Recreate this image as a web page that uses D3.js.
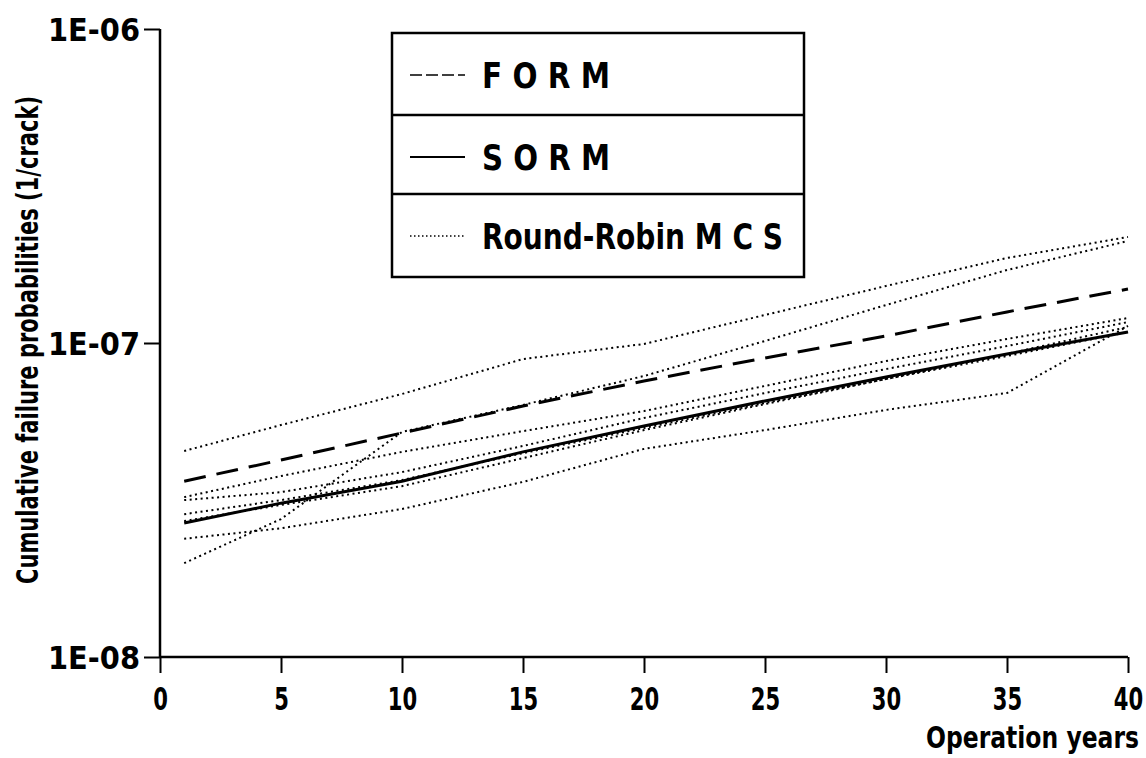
<!DOCTYPE html>
<html>
<head>
<meta charset="utf-8">
<script src="https://cdn.jsdelivr.net/npm/d3@7"></script>
<style>
  body { margin: 0; background: #fff; }
  text { font-family: "DejaVu Sans", sans-serif; font-weight: bold; fill: #000; }
</style>
</head>
<body>
<script>
const width = 1146;
const height = 758;

const years = [1, 5, 10, 15, 20, 25, 30, 35, 40];

const form = [3.63e-8, 4.24e-8, 5.17e-8, 6.30e-8, 7.57e-8, 8.96e-8, 1.053e-7, 1.256e-7, 1.486e-7];
const sorm = [2.67e-8, 3.09e-8, 3.63e-8, 4.50e-8, 5.44e-8, 6.54e-8, 7.79e-8, 9.23e-8, 1.084e-7];

// round-robin monte carlo results, one array per participant
const mcsA = [4.53e-8, 5.48e-8, 6.88e-8, 8.89e-8, 9.93e-8, 1.228e-7, 1.519e-7, 1.865e-7, 2.176e-7];
const mcsB = [1.99e-8, 2.75e-8, 5.21e-8, 6.35e-8, 7.85e-8, 1.015e-7, 1.321e-7, 1.708e-7, 2.113e-7];
const mcsC = [2.38e-8, 2.57e-8, 2.96e-8, 3.61e-8, 4.60e-8, 5.28e-8, 6.12e-8, 6.93e-8, 1.133e-7];
const mcsD = [3.23e-8, 3.77e-8, 4.50e-8, 5.24e-8, 6.07e-8, 7.30e-8, 8.76e-8, 1.030e-7, 1.201e-7];
const mcsE = [3.16e-8, 3.35e-8, 3.88e-8, 4.70e-8, 5.77e-8, 6.93e-8, 8.26e-8, 9.78e-8, 1.166e-7];
const mcsF = [2.85e-8, 3.16e-8, 3.66e-8, 4.46e-8, 5.36e-8, 6.44e-8, 7.68e-8, 9.23e-8, 1.125e-7];
const mcsG = [2.71e-8, 3.05e-8, 3.50e-8, 4.30e-8, 5.28e-8, 6.39e-8, 7.68e-8, 9.09e-8, 1.084e-7];

const xTicks = [0, 5, 10, 15, 20, 25, 30, 35, 40];
const yTicks = [1e-8, 1e-7, 1e-6];
const yTickLabels = ["1E-08", "1E-07", "1E-06"];

const legendNames = ["F O R M", "S O R M", "Round-Robin M C S"];
const legendTextWidth = [128, 128, 301];

const x = d3.scaleLinear().domain([0, 40]).range([160, 1128]);
const y = d3.scaleLog().domain([1e-8, 1e-6]).range([657, 29]);

const svg = d3.select("body")
    .append("svg")
    .attr("width", width)
    .attr("height", height)
    .attr("viewBox", [0, 0, width, height].join(" "));

// axes
const xAxis = svg.append("g")
    .attr("transform", `translate(0, ${y(1e-8)})`)
    .call(d3.axisBottom(x).tickValues(xTicks).tickSize(16));

const yAxis = svg.append("g")
    .attr("transform", `translate(${x(0)}, 0)`)
    .call(d3.axisLeft(y).tickValues(yTicks).tickSize(16).tickPadding(4)
        .tickFormat((d, i) => yTickLabels[i]));

[xAxis, yAxis].forEach((g) => {
  g.select(".domain").attr("stroke", "#000").attr("stroke-width", 2.5);
  g.selectAll(".tick line").attr("stroke", "#000").attr("stroke-width", 2);
  g.selectAll(".tick text")
      .attr("fill", "#000")
      .style("font-size", "32px");
});

xAxis.select(".domain").attr("d", `M${x(0)},0H${x(40)}`);
yAxis.select(".domain").attr("d", `M0,${y(1e-8)}V${y(1e-6)}`);

// the original font is a tall narrow plotter font: squeeze glyphs sideways
xAxis.selectAll(".tick text")
    .attr("y", 53)
    .attr("dy", null)
    .attr("transform", "scale(0.66,1)");

yAxis.selectAll(".tick text")
    .attr("dy", "0.36em")
    .attr("textLength", 92)
    .attr("lengthAdjust", "spacingAndGlyphs");

svg.append("text")
    .attr("x", 1139)
    .attr("y", 748)
    .attr("text-anchor", "end")
    .attr("textLength", 213)
    .attr("lengthAdjust", "spacingAndGlyphs")
    .style("font-size", "30px")
    .text("Operation years");

svg.append("text")
    .attr("transform", `translate(38, 340) rotate(-90)`)
    .attr("text-anchor", "middle")
    .attr("textLength", 488)
    .attr("lengthAdjust", "spacingAndGlyphs")
    .style("font-size", "31px")
    .text("Cumulative failure probabilities (1/crack)");

// lines
const line = d3.line()
    .x((d, i) => x(years[i]))
    .y((d) => y(d));

const mcsSeries = [mcsA, mcsB, mcsC, mcsD, mcsE, mcsF, mcsG];

svg.append("g")
    .selectAll("path")
    .data(mcsSeries)
    .enter()
    .append("path")
    .attr("d", line)
    .attr("fill", "none")
    .attr("stroke", "#000")
    .attr("stroke-width", 2)
    .attr("stroke-dasharray", "2,3.5");

svg.append("path")
    .attr("d", line(form))
    .attr("fill", "none")
    .attr("stroke", "#000")
    .attr("stroke-width", 3)
    .attr("stroke-dasharray", "22,11");

svg.append("path")
    .attr("d", line(sorm))
    .attr("fill", "none")
    .attr("stroke", "#000")
    .attr("stroke-width", 3);

// legend box
const legend = svg.append("g").attr("transform", "translate(392, 33)");
const rowH = [0, 82, 161, 244];

legend.append("rect")
    .attr("width", 412)
    .attr("height", rowH[3])
    .attr("fill", "#fff")
    .attr("stroke", "#000")
    .attr("stroke-width", 2.5);

legend.selectAll("line.div")
    .data([rowH[1], rowH[2]])
    .enter()
    .append("line")
    .attr("class", "div")
    .attr("x1", 0)
    .attr("x2", 412)
    .attr("y1", (d) => d)
    .attr("y2", (d) => d)
    .attr("stroke", "#000")
    .attr("stroke-width", 2.5);

const legendDash = ["12,4", null, "1.5,2.5"];
const legendWidth = [1.5, 2, 1.5];

const rows = legend.selectAll("g.row")
    .data(legendNames)
    .enter()
    .append("g")
    .attr("class", "row")
    .attr("transform", (d, i) => `translate(0, ${rowH[i]})`);

rows.append("line")
    .attr("x1", 18)
    .attr("x2", 73)
    .attr("y1", 42)
    .attr("y2", 42)
    .attr("stroke", "#000")
    .attr("stroke-width", (d, i) => legendWidth[i])
    .attr("stroke-dasharray", (d, i) => legendDash[i]);

rows.append("text")
    .attr("x", 90)
    .attr("y", 55)
    .attr("textLength", (d, i) => legendTextWidth[i])
    .attr("lengthAdjust", "spacingAndGlyphs")
    .style("font-size", "36px")
    .style("white-space", "pre")
    .text((d) => d);
</script>
</body>
</html>
